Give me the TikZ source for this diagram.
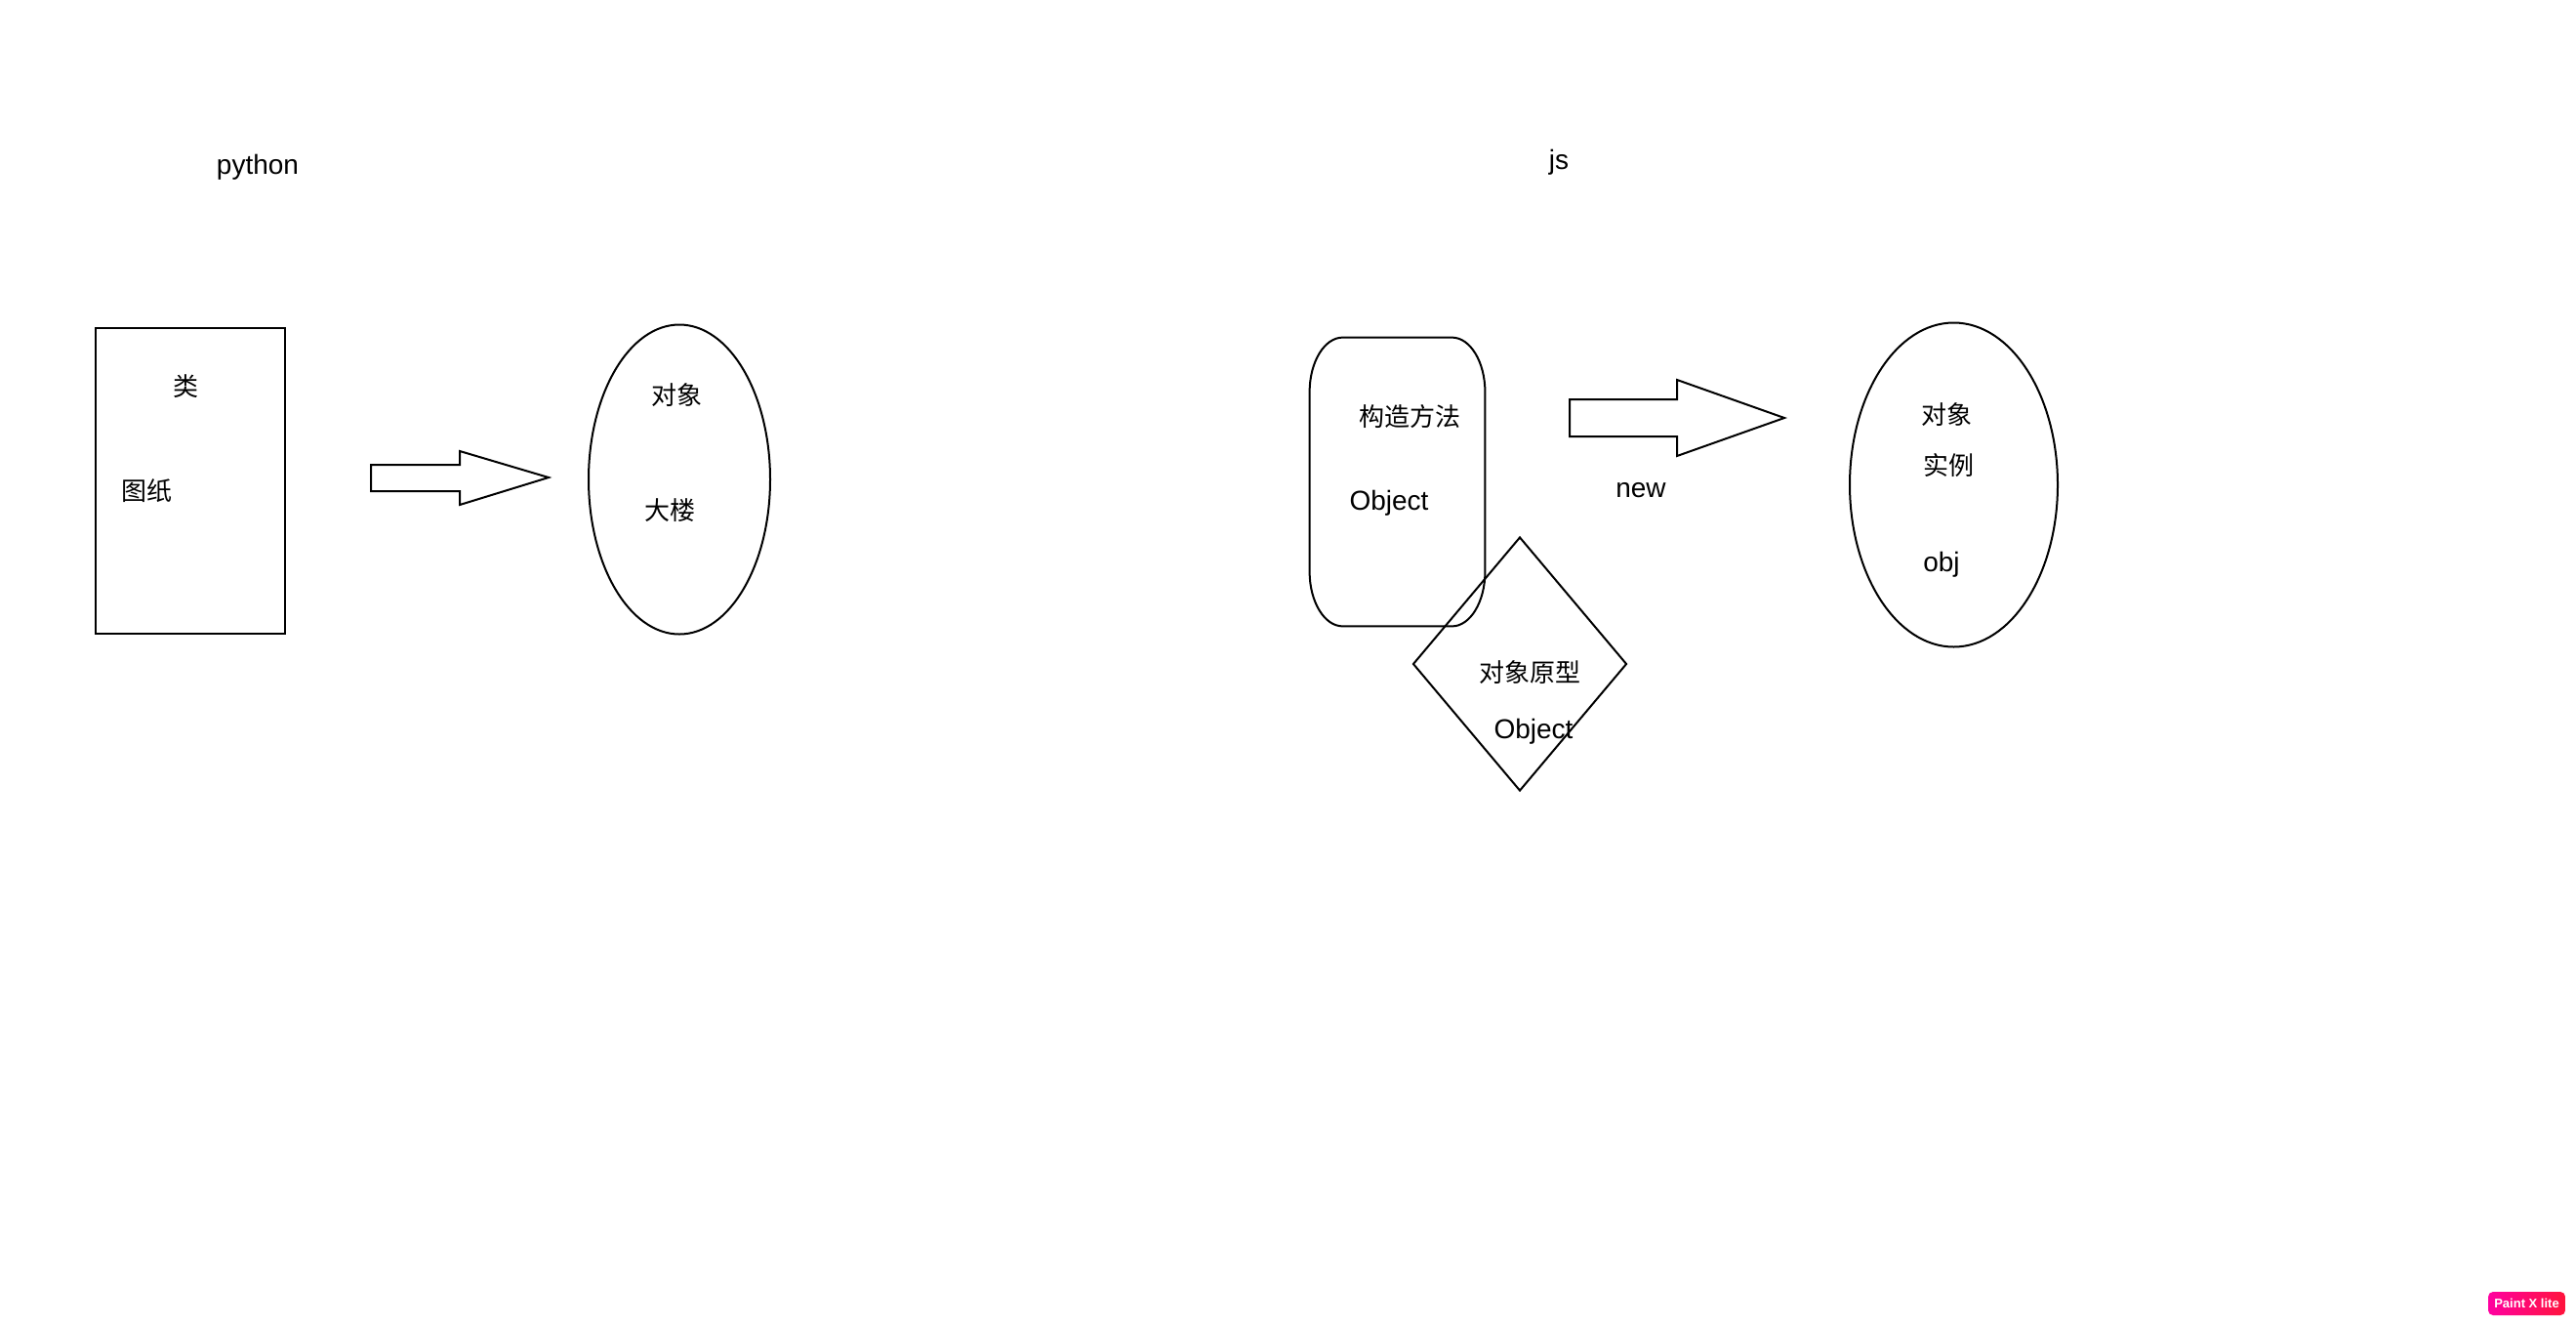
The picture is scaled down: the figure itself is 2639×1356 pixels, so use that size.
\documentclass[tikz,border=0pt]{standalone}
\usepackage{fontspec}
\setmainfont{Liberation Sans}
\newfontfamily\cjk{Noto Sans CJK SC}
\usetikzlibrary{shapes.geometric}
\begin{document}
\begin{tikzpicture}[x=0.5pt,y=-0.5pt,
  lat/.style={font=\fontsize{14}{16}\selectfont, inner sep=0pt},
  zh/.style={font=\cjk\fontsize{13}{15}\selectfont, inner sep=0pt},
  shapeline/.style={draw=black, line width=1pt, inner sep=0pt},
  blockarrow/.style={draw=black, line width=1pt, line join=miter},
  corner/.style={x radius=17pt, y radius=28pt}]
\useasboundingbox (0,0) rectangle (2639,1356);
\fill[white] (0,0) rectangle (2639,1356);

% ---------- python side ----------
\node[lat] (python) at (264,171) {python};
\node[shapeline, rectangle, minimum width=97pt, minimum height=156.5pt] (cls) at (195,492) {};
\node[zh] (lei) at (190.5,396) {类};
\node[zh] (tuzhi) at (150,503) {图纸};

\draw[blockarrow] (380,476) -- (471,476) -- (471,462) -- (562,489) -- (471,517) -- (471,503) -- (380,503) -- cycle;

\node[shapeline, ellipse, minimum width=93pt, minimum height=158.5pt] (obj1) at (696,491) {};
\node[zh] (duixiang1) at (693,405) {对象};
\node[zh] (dalou) at (686,523) {大楼};

% ---------- js side ----------
\node[lat] (js) at (1597,166) {js};
\node[inner sep=0pt, minimum width=89.5pt, minimum height=147.5pt] (ctor) at (1431.5,493.5) {};
\draw[line width=1pt]
  ([xshift=17pt]ctor.north west) -- ([xshift=-17pt]ctor.north east)
  arc[start angle=90, end angle=0, corner] -- ([yshift=28pt]ctor.south east)
  arc[start angle=0, end angle=-90, corner] -- ([xshift=17pt]ctor.south west)
  arc[start angle=270, end angle=180, corner] -- ([yshift=-28pt]ctor.north west)
  arc[start angle=180, end angle=90, corner] -- cycle;
\node[zh] (gouzao) at (1444,427) {构造方法};
\node[lat] (object1) at (1423,515) {Object};

\node[shapeline, diamond, minimum width=109.5pt, minimum height=130pt] (proto) at (1557,680) {};
\node[zh] (yuanxing) at (1567,689) {对象原型};
\node[lat] (object2) at (1571,749) {Object};

\draw[blockarrow] (1608,409) -- (1718,409) -- (1718,389) -- (1828,428) -- (1718,467) -- (1718,447) -- (1608,447) -- cycle;
\node[lat] (new) at (1681,502) {new};

\node[shapeline, ellipse, minimum width=106.5pt, minimum height=166pt] (obj2) at (2001.5,496.5) {};
\node[zh] (duixiang2) at (1994,425) {对象};
\node[zh] (shili) at (1996,477) {实例};
\node[lat] (objtxt) at (1989,578) {obj};

% ---------- watermark badge ----------
\node[rectangle, rounded corners=2.5pt, left color={rgb,255:red,255;green,0;blue,160}, right color={rgb,255:red,255;green,20;blue,60}, minimum width=39.5pt, minimum height=12pt, inner sep=0pt, text=white, font=\bfseries\fontsize{6.5}{7}\selectfont] (badge) at (2588.5,1335) {Paint X lite};
\end{tikzpicture}
\end{document}
